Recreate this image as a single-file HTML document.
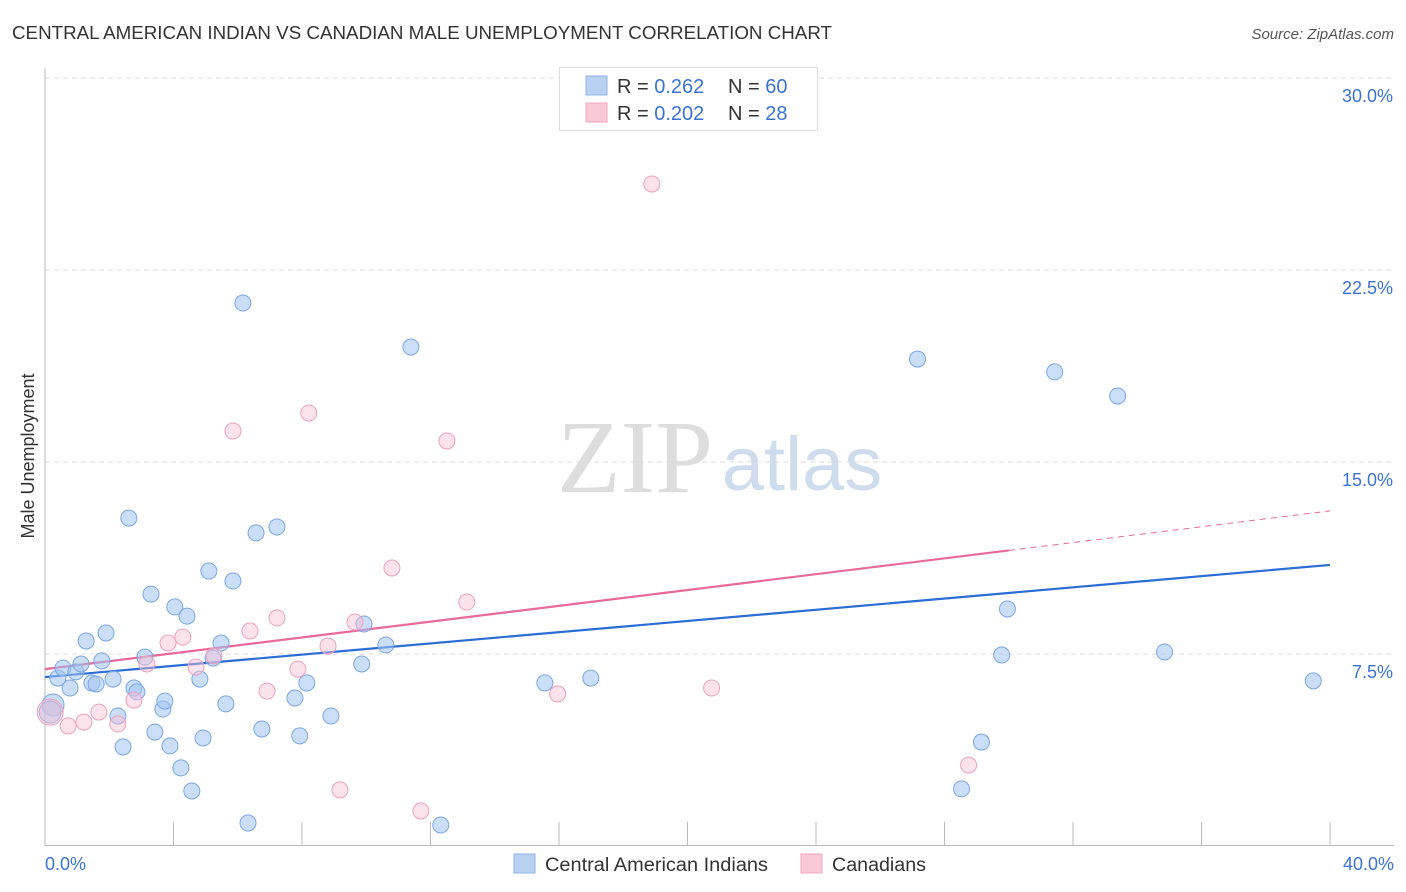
<!DOCTYPE html>
<html><head><meta charset="utf-8">
<style>
body{margin:0;background:#fff;font-family:"Liberation Sans",sans-serif;}
#wrap{position:relative;width:1406px;height:892px;overflow:hidden;}
</style></head>
<body><div id="wrap">
<svg id="svg" width="1406" height="892" xmlns="http://www.w3.org/2000/svg">
<text x="12" y="39" font-size="18" fill="#333" textLength="820" lengthAdjust="spacingAndGlyphs">CENTRAL AMERICAN INDIAN VS CANADIAN MALE UNEMPLOYMENT CORRELATION CHART</text>
<text x="1394" y="39" font-size="15" fill="#555" text-anchor="end" font-style="italic">Source: ZipAtlas.com</text>
<text x="635" y="492" font-size="104" fill="#ddd" text-anchor="middle" font-family="Liberation Serif,serif">ZIP</text>
<text x="802" y="490" font-size="76" fill="#cfdcee" text-anchor="middle">atlas</text>
<g id="grid"></g><g id="axes"></g><g id="lines"></g><g id="pts"></g>
<text transform="translate(34,456) rotate(-90)" font-size="18" fill="#333" text-anchor="middle">Male Unemployment</text>
<text x="45" y="870" font-size="18" fill="#3b73d4">0.0%</text>
<text x="1394" y="870" font-size="18" fill="#3b73d4" text-anchor="end">40.0%</text>
<g>
<rect x="559.5" y="67.5" width="258" height="63" fill="#fff" stroke="#ddd"/>
<rect x="586" y="76" width="21" height="19" fill="#b8d1f3" stroke="#8fb2e6"/>
<rect x="586" y="103" width="21" height="19" fill="#f9c9d7" stroke="#eda6bd"/>
<text x="617" y="93" font-size="20" fill="#333">R = <tspan fill="#3b73d4">0.262</tspan><tspan x="728">N = </tspan><tspan fill="#3b73d4">60</tspan></text>
<text x="617" y="120" font-size="20" fill="#333">R = <tspan fill="#3b73d4">0.202</tspan><tspan x="728">N = </tspan><tspan fill="#3b73d4"> 28</tspan></text>
</g>
<g>
<rect x="514" y="854" width="21" height="19" fill="#b8d1f3" stroke="#8fb2e6"/>
<text x="545" y="871" font-size="19" fill="#333" textLength="223" lengthAdjust="spacingAndGlyphs">Central American Indians</text>
<rect x="801" y="854" width="21" height="19" fill="#f9c9d7" stroke="#eda6bd"/>
<text x="832" y="871" font-size="19" fill="#333" textLength="94" lengthAdjust="spacingAndGlyphs">Canadians</text>
</g>
</svg></div>
<script>
const yTicks=[7.5,15,22.5,30];
const yTickLabels=["7.5%","15.0%","22.5%","30.0%"];
const xTicks=[4,8,12,16,20,24,28,32,36,40];
const blueX=[0.25,0.16,0.40,0.56,0.78,0.96,1.12,1.28,1.46,1.59,1.77,1.90,2.12,2.27,2.43,2.61,2.77,2.86,3.11,3.30,3.42,3.67,3.73,3.89,4.04,4.23,4.42,4.57,4.82,4.92,5.10,5.23,5.48,5.63,5.85,6.16,6.32,6.57,6.75,7.22,7.78,7.93,8.15,8.90,9.86,9.93,10.61,11.39,12.32,15.56,16.99,27.16,28.53,29.15,29.78,29.96,31.43,33.39,34.85,39.48];
const blueY=[5.51,5.23,6.56,6.95,6.17,6.80,7.11,8.01,6.37,6.33,7.23,8.32,6.52,5.08,3.87,12.81,6.17,6.02,7.38,9.84,4.45,5.35,5.66,3.91,9.34,3.05,8.98,2.15,6.52,4.22,10.74,7.34,7.93,5.55,10.35,21.21,0.90,12.23,4.57,12.46,5.78,4.30,6.37,5.08,7.11,8.67,7.85,19.49,0.82,6.37,6.56,19.02,2.23,4.06,7.46,9.26,18.52,17.58,7.58,6.45];
const pinkX=[0.16,0.72,1.21,1.68,2.27,2.77,3.17,3.83,4.29,4.70,5.26,5.85,6.38,6.91,7.22,7.87,8.21,8.81,9.18,9.65,10.80,11.70,12.51,13.13,15.96,18.89,20.75,28.75];
const pinkY=[5.23,4.69,4.84,5.23,4.77,5.70,7.11,7.93,8.16,6.99,7.42,16.21,8.40,6.05,8.91,6.91,16.91,7.81,2.19,8.75,10.86,1.37,15.82,9.53,5.94,25.86,6.17,3.16];
const blueTrend=[6.60,10.98];
const pinkTrend=[6.91,13.09];
const pinkSolidEnd=30;
const sx=v=>45+v*(1285/40);
const sy=v=>846-v*25.6;
const NS="http://www.w3.org/2000/svg";
function mk(p,t,a){const e=document.createElementNS(NS,t);for(const k in a)e.setAttribute(k,a[k]);document.getElementById(p).appendChild(e);return e;}
yTicks.forEach((t,i)=>{
 const g=mk('grid','line',{x1:45,x2:1394,y1:sy(t),y2:sy(t),stroke:'#ddd','stroke-dasharray':'5,4'});
 
 
 const l=mk('grid','text',{x:1393,y:sy(t)+24,'font-size':18,fill:'#3b73d4','text-anchor':'end'});
 l.textContent=yTickLabels[i];
 
 
});
const ya=mk('axes','line',{x1:45,x2:45,y1:68,y2:846,stroke:'#bbb'});


const xa=mk('axes','line',{x1:45,x2:1394,y1:845.5,y2:845.5,stroke:'#bbb'});


xTicks.forEach(t=>{
 const k=mk('axes','line',{x1:sx(t),x2:sx(t),y1:822,y2:846,stroke:'#bbb'});
 
 
});
const bl=mk('lines','line',{x1:sx(0),y1:sy(blueTrend[0]),x2:sx(40),y2:sy(blueTrend[1]),stroke:'#2a6dd6','stroke-width':2.2});


const pAt=x=>pinkTrend[0]+(pinkTrend[1]-pinkTrend[0])*x/40;
const pl=mk('lines','line',{x1:sx(0),y1:sy(pAt(0)),x2:sx(pinkSolidEnd),y2:sy(pAt(pinkSolidEnd)),stroke:'#e8699a','stroke-width':2.2});


const pd=mk('lines','line',{x1:sx(pinkSolidEnd),y1:sy(pAt(pinkSolidEnd)),x2:sx(40),y2:sy(pAt(40)),stroke:'#e8699a','stroke-width':1,'stroke-dasharray':'6,5'});


blueX.forEach((x,i)=>{
 const c=mk('pts','circle',{cx:sx(x),cy:sy(blueY[i]),r:i<2?11:8,fill:'rgba(160,195,240,0.55)',stroke:'#7aa6e3','stroke-width':1});
 
 
});
pinkX.forEach((x,i)=>{
 const c=mk('pts','circle',{cx:sx(x),cy:sy(pinkY[i]),r:i==0?13:8,fill:'rgba(248,190,210,0.45)',stroke:'#eea0bb','stroke-width':1});
 
 
});
</script></body></html>
